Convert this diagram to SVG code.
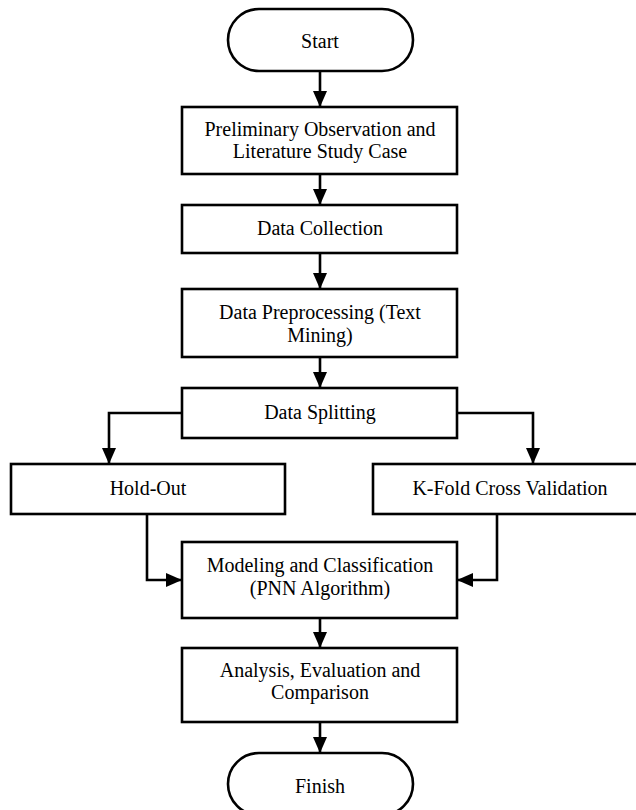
<svg xmlns="http://www.w3.org/2000/svg" width="636" height="810" viewBox="0 0 636 810">
<style>
.n{fill:#fff;stroke:#000;stroke-width:2.6}
.t{font-family:"Liberation Serif","Times New Roman",serif;font-size:20px;fill:#000;text-anchor:middle}
.c{fill:none;stroke:#000;stroke-width:2.6}
</style>
<defs>
<marker id="ah" markerUnits="userSpaceOnUse" viewBox="0 0 16 14" refX="16" refY="7" markerWidth="16" markerHeight="14" orient="auto">
<path d="M0,0 L16,7 L0,14 z" fill="#000"/>
</marker>
</defs>
<rect width="636" height="810" fill="#fff"/>
<g id="connectors">
<path class="c" marker-end="url(#ah)" d="M320,71 V107"/>
<path class="c" marker-end="url(#ah)" d="M320,174 V205"/>
<path class="c" marker-end="url(#ah)" d="M320,253 V289"/>
<path class="c" marker-end="url(#ah)" d="M320,357 V388"/>
<path class="c" marker-end="url(#ah)" d="M182,413 H109 V464"/>
<path class="c" marker-end="url(#ah)" d="M457,413 H533 V464"/>
<path class="c" marker-end="url(#ah)" d="M147,514 V580 H182"/>
<path class="c" marker-end="url(#ah)" d="M497,514 V580 H457"/>
<path class="c" marker-end="url(#ah)" d="M320,618 V648"/>
<path class="c" marker-end="url(#ah)" d="M320,722 V753"/>
</g>
<g id="start">
<rect class="n" x="228" y="9" width="185" height="62" rx="31" ry="31"/>
<text class="t" x="320" y="48">Start</text>
</g>
<g id="prelim">
<rect class="n" x="182" y="107" width="275" height="67"/>
<text class="t" x="320" y="136">Preliminary Observation and</text>
<text class="t" x="320" y="158">Literature Study Case</text>
</g>
<g id="collection">
<rect class="n" x="182" y="205" width="275" height="48"/>
<text class="t" x="320" y="235">Data Collection</text>
</g>
<g id="preprocessing">
<rect class="n" x="182" y="289" width="275" height="68"/>
<text class="t" x="320" y="319">Data Preprocessing (Text</text>
<text class="t" x="320" y="342">Mining)</text>
</g>
<g id="splitting">
<rect class="n" x="182" y="388" width="275" height="50"/>
<text class="t" x="320" y="419">Data Splitting</text>
</g>
<g id="holdout">
<rect class="n" x="11" y="464" width="274" height="50"/>
<text class="t" x="148" y="495">Hold-Out</text>
</g>
<g id="kfold">
<rect class="n" x="373" y="464" width="275" height="50"/>
<text class="t" x="510" y="495">K-Fold Cross Validation</text>
</g>
<g id="modeling">
<rect class="n" x="182" y="542" width="275" height="76"/>
<text class="t" x="320" y="572">Modeling and Classification</text>
<text class="t" x="320" y="595">(PNN Algorithm)</text>
</g>
<g id="analysis">
<rect class="n" x="182" y="648" width="275" height="74"/>
<text class="t" x="320" y="677">Analysis, Evaluation and</text>
<text class="t" x="320" y="699">Comparison</text>
</g>
<g id="finish">
<rect class="n" x="228" y="753" width="185" height="62" rx="31" ry="31"/>
<text class="t" x="320" y="793">Finish</text>
</g>
</svg>
